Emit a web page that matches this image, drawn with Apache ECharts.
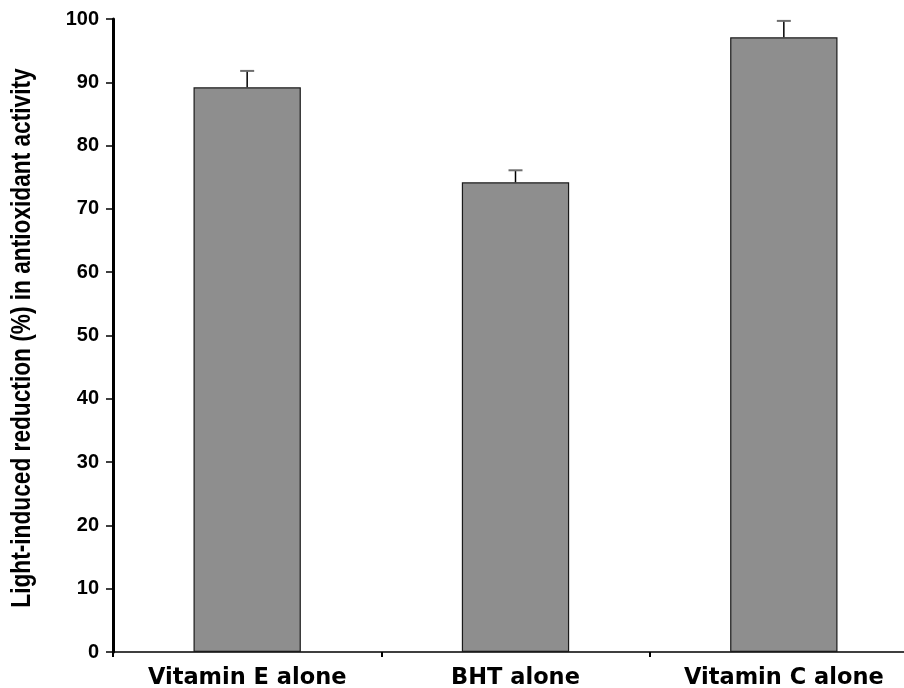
<!DOCTYPE html>
<html>
<head>
<meta charset="utf-8">
<script src="https://cdn.jsdelivr.net/npm/echarts@6/dist/echarts.min.js"></script>
<style>
  html, body { margin: 0; padding: 0; background: #fff; overflow: hidden; }
  #chart { width: 904px; height: 688px; }
</style>
</head>
<body>
<div id="chart"></div>
<script>
// Light-induced loss of antioxidant activity per antioxidant
const categories = ['Vitamin E alone', 'BHT alone', 'Vitamin C alone'];
const means = [89.2, 74.2, 97.1];
const sdUpper = [2.6, 1.9, 2.6];
const yTicks = [0, 10, 20, 30, 40, 50, 60, 70, 80, 90, 100];
const yTitle = 'Light-induced reduction (%) in antioxidant activity';

const chart = echarts.init(document.getElementById('chart'), null, { renderer: 'canvas' });

const errData = means.map((m, i) => [i, m, m + sdUpper[i]]);

chart.setOption({
  animation: false,
  grid: { left: 113, top: 19, width: 805, bottom: 36, containLabel: false, outerBoundsMode: 'none' },
  xAxis: {
    type: 'category',
    data: categories,
    axisLine: { lineStyle: { color: '#000', width: 1.6 } },
    axisTick: { show: true, length: 5, lineStyle: { color: '#000', width: 2 } },
    axisLabel: {
      color: '#000', fontFamily: '"DejaVu Sans", sans-serif',
      fontWeight: 'bold', fontSize: 22.5, margin: 15
    },
    splitLine: { show: false }
  },
  yAxis: {
    type: 'value',
    min: yTicks[0],
    max: yTicks[yTicks.length - 1],
    interval: 10,
    axisLine: { show: true, lineStyle: { color: '#000', width: 3 } },
    axisTick: { show: true, length: 7, lineStyle: { color: '#000', width: 1.5 } },
    axisLabel: {
      color: '#000', fontFamily: 'Liberation Sans, Arial, sans-serif',
      fontWeight: 'bold', fontSize: 20, margin: 14
    },
    splitLine: { show: false }
  },
  graphic: [
    {
      // condensed rotated y-axis title
      type: 'text',
      x: 22,
      y: 338,
      rotation: Math.PI / 2,
      scaleX: 0.81,
      style: {
        text: yTitle,
        fill: '#000',
        font: 'bold 28px "Liberation Sans", Arial, sans-serif',
        align: 'center',
        verticalAlign: 'middle'
      }
    }
  ],
  series: [
    {
      type: 'bar',
      data: means,
      barWidth: '40%',
      itemStyle: { color: '#8e8e8e', borderColor: '#1a1a1a', borderWidth: 1.2 }
    },
    {
      type: 'custom',
      data: errData,
      z: 1,
      renderItem: function (params, api) {
        const x = api.value(0);
        const top = api.coord([x, api.value(2)]);
        const base = api.coord([x, api.value(1)]);
        const half = 7;
        return {
          type: 'group',
          children: [
            {
              type: 'line',
              shape: { x1: top[0], y1: top[1], x2: base[0], y2: base[1] },
              style: { stroke: '#000', lineWidth: 1.5 }
            },
            {
              type: 'line',
              shape: { x1: top[0] - half, y1: top[1], x2: top[0] + half, y2: top[1] },
              style: { stroke: '#6e6e6e', lineWidth: 2 }
            }
          ]
        };
      }
    }
  ]
});
</script>
</body>
</html>
